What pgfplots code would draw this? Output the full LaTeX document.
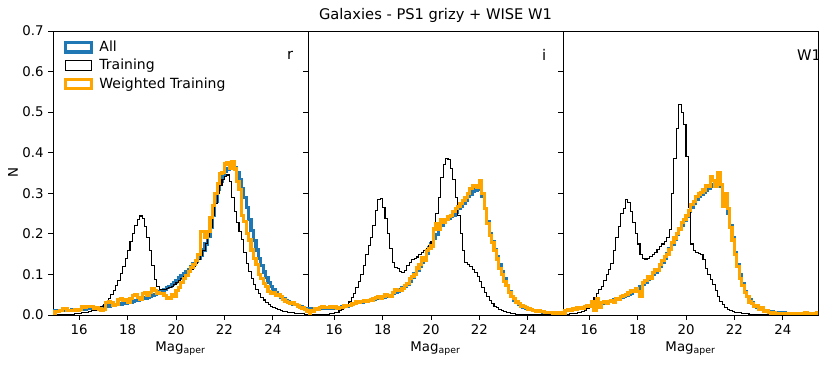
\documentclass[border=0pt]{standalone}
\usepackage{fontspec}
\setmainfont{DejaVu Sans}
\usepackage{pgfplots}
\usepackage{pgfplotstable}
\pgfplotsset{compat=1.18}
\usepgfplotslibrary{groupplots}
\usetikzlibrary{calc}
\definecolor{mplblue}{HTML}{1F77B4}
\definecolor{mplorange}{HTML}{FFA500}

% columns: bin left edge, All, Training, Weighted Training
\pgfplotstableread{
x all tr wt
15.0 0 0 0
15.0 0.010 0.000 0.008
15.1 0.010 0.000 0.008
15.2 0.011 0.001 0.012
15.3 0.011 0.001 0.016
15.4 0.012 0.001 0.016
15.5 0.012 0.001 0.011
15.6 0.012 0.002 0.012
15.7 0.013 0.002 0.011
15.8 0.013 0.003 0.013
15.9 0.014 0.003 0.012
16.0 0.014 0.004 0.014
16.1 0.015 0.005 0.020
16.2 0.015 0.006 0.019
16.3 0.016 0.007 0.021
16.4 0.016 0.008 0.020
16.5 0.017 0.010 0.020
16.6 0.017 0.012 0.016
16.7 0.018 0.015 0.017
16.8 0.018 0.018 0.015
16.9 0.019 0.022 0.012
17.0 0.020 0.027 0.013
17.1 0.021 0.033 0.030
17.2 0.022 0.040 0.033
17.3 0.023 0.050 0.031
17.4 0.024 0.060 0.024
17.5 0.025 0.072 0.026
17.6 0.026 0.086 0.038
17.7 0.027 0.102 0.040
17.8 0.028 0.120 0.035
17.9 0.029 0.140 0.038
18.0 0.031 0.160 0.030
18.1 0.032 0.180 0.041
18.2 0.034 0.200 0.048
18.3 0.035 0.220 0.050
18.4 0.037 0.236 0.044
18.5 0.038 0.244 0.038
18.6 0.040 0.238 0.052
18.7 0.042 0.218 0.054
18.8 0.044 0.192 0.048
18.9 0.046 0.160 0.055
19.0 0.048 0.122 0.066
19.1 0.051 0.088 0.060
19.2 0.054 0.070 0.054
19.3 0.057 0.063 0.053
19.4 0.060 0.062 0.052
19.5 0.063 0.063 0.048
19.6 0.067 0.065 0.041
19.7 0.071 0.068 0.042
19.8 0.076 0.071 0.050
19.9 0.081 0.075 0.046
20.0 0.086 0.079 0.060
20.1 0.091 0.084 0.068
20.2 0.096 0.089 0.080
20.3 0.101 0.094 0.090
20.4 0.107 0.100 0.098
20.5 0.113 0.106 0.108
20.6 0.119 0.113 0.118
20.7 0.126 0.120 0.124
20.8 0.133 0.128 0.135
20.9 0.140 0.137 0.150
21.0 0.148 0.147 0.206
21.1 0.160 0.160 0.205
21.2 0.175 0.176 0.192
21.3 0.193 0.194 0.205
21.4 0.215 0.215 0.240
21.5 0.245 0.245 0.270
21.6 0.280 0.275 0.300
21.7 0.310 0.300 0.325
21.8 0.330 0.320 0.348
21.9 0.345 0.333 0.352
22.0 0.355 0.342 0.372
22.1 0.360 0.345 0.376
22.2 0.364 0.330 0.362
22.3 0.366 0.290 0.378
22.4 0.364 0.255 0.360
22.5 0.352 0.228 0.330
22.6 0.334 0.205 0.310
22.7 0.312 0.185 0.245
22.8 0.290 0.155 0.230
22.9 0.264 0.128 0.200
23.0 0.235 0.108 0.185
23.1 0.208 0.090 0.160
23.2 0.183 0.076 0.140
23.3 0.160 0.063 0.125
23.4 0.140 0.053 0.100
23.5 0.122 0.044 0.090
23.6 0.106 0.037 0.078
23.7 0.092 0.031 0.070
23.8 0.080 0.026 0.058
23.9 0.070 0.022 0.052
24.0 0.062 0.018 0.055
24.1 0.055 0.015 0.048
24.2 0.049 0.013 0.050
24.3 0.044 0.011 0.045
24.4 0.040 0.009 0.038
24.5 0.036 0.008 0.034
24.6 0.033 0.007 0.030
24.7 0.030 0.006 0.028
24.8 0.027 0.005 0.030
24.9 0.025 0.004 0.025
25.0 0.022 0.004 0.022
25.1 0.020 0.003 0.019
25.2 0.018 0.003 0.017
25.3 0.016 0.002 0.014
25.4 0.014 0.002 0.010
25.5 0.014 0.002 0.010
}\tabr

\pgfplotstableread{
x all tr wt
15.0 0 0 0
15.0 0.015 0.000 0.012
15.1 0.015 0.000 0.010
15.2 0.015 0.000 0.015
15.3 0.015 0.001 0.014
15.4 0.016 0.001 0.018
15.5 0.016 0.001 0.020
15.6 0.016 0.002 0.019
15.7 0.016 0.002 0.018
15.8 0.017 0.003 0.020
15.9 0.017 0.004 0.019
16.0 0.018 0.005 0.020
16.1 0.018 0.007 0.017
16.2 0.019 0.010 0.019
16.3 0.020 0.014 0.018
16.4 0.021 0.019 0.022
16.5 0.022 0.025 0.024
16.6 0.024 0.032 0.023
16.7 0.026 0.042 0.027
16.8 0.028 0.054 0.028
16.9 0.030 0.068 0.032
17.0 0.031 0.083 0.030
17.1 0.032 0.100 0.034
17.2 0.033 0.123 0.035
17.3 0.034 0.150 0.033
17.4 0.036 0.172 0.036
17.5 0.037 0.190 0.037
17.6 0.039 0.220 0.040
17.7 0.041 0.258 0.044
17.8 0.042 0.285 0.046
17.9 0.043 0.288 0.042
18.0 0.044 0.265 0.045
18.1 0.045 0.238 0.050
18.2 0.047 0.200 0.048
18.3 0.049 0.165 0.047
18.4 0.052 0.130 0.055
18.5 0.055 0.118 0.062
18.6 0.059 0.114 0.060
18.7 0.063 0.108 0.061
18.8 0.067 0.105 0.066
18.9 0.071 0.110 0.072
19.0 0.076 0.122 0.078
19.1 0.084 0.130 0.090
19.2 0.093 0.136 0.095
19.3 0.102 0.140 0.100
19.4 0.111 0.143 0.116
19.5 0.120 0.148 0.125
19.6 0.130 0.155 0.142
19.7 0.140 0.158 0.135
19.8 0.152 0.165 0.158
19.9 0.165 0.172 0.163
20.0 0.177 0.180 0.170
20.1 0.188 0.210 0.212
20.2 0.198 0.250 0.225
20.3 0.210 0.290 0.212
20.4 0.222 0.340 0.235
20.5 0.230 0.370 0.228
20.6 0.235 0.385 0.235
20.7 0.238 0.384 0.242
20.8 0.242 0.362 0.245
20.9 0.246 0.335 0.255
21.0 0.254 0.290 0.262
21.1 0.262 0.245 0.268
21.2 0.268 0.200 0.274
21.3 0.275 0.160 0.282
21.4 0.283 0.130 0.290
21.5 0.292 0.124 0.300
21.6 0.298 0.120 0.312
21.7 0.304 0.112 0.318
21.8 0.308 0.105 0.320
21.9 0.312 0.095 0.315
22.0 0.310 0.082 0.332
22.1 0.292 0.068 0.300
22.2 0.262 0.056 0.262
22.3 0.230 0.045 0.225
22.4 0.200 0.035 0.195
22.5 0.182 0.028 0.178
22.6 0.162 0.022 0.158
22.7 0.145 0.018 0.138
22.8 0.125 0.014 0.115
22.9 0.108 0.011 0.100
23.0 0.090 0.009 0.082
23.1 0.072 0.007 0.072
23.2 0.058 0.005 0.055
23.3 0.045 0.004 0.045
23.4 0.037 0.003 0.040
23.5 0.031 0.002 0.032
23.6 0.026 0.002 0.028
23.7 0.022 0.002 0.022
23.8 0.019 0.001 0.020
23.9 0.017 0.001 0.018
24.0 0.015 0.001 0.015
24.1 0.013 0.001 0.013
24.2 0.012 0.001 0.012
24.3 0.010 0.000 0.010
24.4 0.009 0.000 0.010
24.5 0.008 0.000 0.009
24.6 0.007 0.000 0.008
24.7 0.007 0.000 0.007
24.8 0.006 0.000 0.006
24.9 0.006 0.000 0.006
25.0 0.005 0.000 0.005
25.1 0.005 0.000 0.005
25.2 0.004 0.000 0.004
25.3 0.004 0.000 0.005
25.4 0.004 0.000 0.004
25.5 0.004 0.000 0.004
}\tabi

\pgfplotstableread{
x all tr wt
15.0 0 0 0
15.0 0.012 0.002 0.012
15.1 0.012 0.002 0.013
15.2 0.013 0.003 0.012
15.3 0.014 0.003 0.015
15.4 0.015 0.004 0.014
15.5 0.016 0.005 0.017
15.6 0.017 0.006 0.018
15.7 0.018 0.008 0.016
15.8 0.019 0.012 0.020
15.9 0.020 0.017 0.024
16.0 0.021 0.024 0.022
16.1 0.023 0.032 0.032
16.2 0.025 0.042 0.012
16.3 0.027 0.053 0.040
16.4 0.028 0.062 0.018
16.5 0.029 0.070 0.030
16.6 0.030 0.085 0.032
16.7 0.032 0.100 0.028
16.8 0.033 0.112 0.034
16.9 0.035 0.127 0.036
17.0 0.037 0.160 0.032
17.1 0.039 0.190 0.040
17.2 0.041 0.218 0.038
17.3 0.043 0.250 0.045
17.4 0.045 0.262 0.048
17.5 0.048 0.285 0.050
17.6 0.050 0.278 0.055
17.7 0.054 0.255 0.060
17.8 0.058 0.228 0.057
17.9 0.062 0.200 0.065
18.0 0.066 0.175 0.058
18.1 0.070 0.150 0.045
18.2 0.075 0.140 0.080
18.3 0.081 0.138 0.085
18.4 0.087 0.140 0.095
18.5 0.093 0.145 0.090
18.6 0.099 0.150 0.105
18.7 0.105 0.155 0.112
18.8 0.112 0.162 0.110
18.9 0.120 0.168 0.125
19.0 0.130 0.175 0.135
19.1 0.140 0.180 0.145
19.2 0.152 0.192 0.150
19.3 0.163 0.210 0.162
19.4 0.175 0.300 0.178
19.5 0.187 0.385 0.190
19.6 0.198 0.460 0.200
19.7 0.210 0.518 0.212
19.8 0.222 0.500 0.228
19.9 0.233 0.470 0.236
20.0 0.244 0.390 0.245
20.1 0.255 0.265 0.258
20.2 0.266 0.175 0.272
20.3 0.276 0.160 0.280
20.4 0.285 0.155 0.292
20.5 0.292 0.152 0.298
20.6 0.298 0.148 0.302
20.7 0.303 0.136 0.308
20.8 0.308 0.115 0.320
20.9 0.313 0.100 0.318
21.0 0.318 0.088 0.340
21.1 0.322 0.075 0.332
21.2 0.326 0.060 0.318
21.3 0.324 0.045 0.352
21.4 0.316 0.034 0.322
21.5 0.300 0.026 0.268
21.6 0.277 0.019 0.300
21.7 0.250 0.014 0.262
21.8 0.220 0.011 0.215
21.9 0.190 0.009 0.185
22.0 0.155 0.007 0.150
22.1 0.125 0.006 0.120
22.2 0.100 0.005 0.090
22.3 0.078 0.004 0.072
22.4 0.058 0.003 0.055
22.5 0.046 0.003 0.045
22.6 0.037 0.002 0.032
22.7 0.030 0.002 0.028
22.8 0.024 0.001 0.020
22.9 0.019 0.001 0.022
23.0 0.016 0.001 0.015
23.1 0.013 0.001 0.018
23.2 0.011 0.001 0.010
23.3 0.010 0.000 0.012
23.4 0.009 0.000 0.006
23.5 0.008 0.000 0.005
23.6 0.007 0.000 0.006
23.7 0.006 0.000 0.004
23.8 0.006 0.000 0.004
23.9 0.005 0.000 0.004
24.0 0.005 0.000 0.004
24.1 0.004 0.000 0.004
24.2 0.004 0.000 0.004
24.3 0.004 0.000 0.003
24.4 0.004 0.000 0.004
24.5 0.004 0.000 0.004
24.6 0.004 0.000 0.003
24.7 0.004 0.000 0.004
24.8 0.004 0.000 0.004
24.9 0.004 0.000 0.005
25.0 0.004 0.000 0.004
25.1 0.004 0.000 0.004
25.2 0.004 0.000 0.003
25.3 0.004 0.000 0.004
25.4 0.004 0.000 0.005
25.5 0.004 0.000 0.005
}\tabw

\begin{document}
\begin{tikzpicture}
\begin{groupplot}[
  group style={group size=3 by 1, horizontal sep=0pt,
    yticklabels at=edge left, ylabels at=edge left},
  scale only axis, width=191.25pt, height=213pt,
  xmin=14.92, xmax=25.45, ymin=0, ymax=0.7,
  xtick={16,18,20,22,24},
  ytick={0,0.1,0.2,0.3,0.4,0.5,0.6,0.7},
  tick align=outside, xtick pos=bottom, ytick pos=left,
  major tick length=3.5pt,
  tick style={black, line width=0.6pt},
  axis line style={line width=0.6pt},
  /pgf/number format/assume math mode=true,
  ticklabel style={font=\fontsize{10}{12}\selectfont},
  yticklabel style={/pgf/number format/.cd, fixed, fixed zerofill, precision=1},
  xlabel={Mag\textsubscript{aper}},
  xlabel style={font=\fontsize{10}{12}\selectfont, yshift=1pt},
  ylabel style={font=\fontsize{10}{12}\selectfont},
  ylabel shift=-3.5pt,
  legend image code/.code={\draw[#1] (0pt,-3.6pt) rectangle (19.5pt,3.6pt);},
  legend style={at={(rel axis cs:0.03,0.985)}, anchor=north west,
    draw=none, fill=none, font=\fontsize{10.5}{12}\selectfont,
    row sep=0.3pt, inner sep=2pt,
    nodes={inner xsep=5pt}},
  legend cell align=left,
  every axis plot/.append style={const plot},
]
\nextgroupplot[ylabel={N}]
\addplot[mplblue, line width=2.4pt] table[x=x, y=all] {\tabr};
\addlegendentry{All}
\addplot[black, line width=0.8pt] table[x=x, y=tr] {\tabr};
\addlegendentry{Training}
\addplot[mplorange, line width=2.4pt] table[x=x, y=wt] {\tabr};
\addlegendentry{Weighted Training}
\node[anchor=west, font=\fontsize{11}{13}\selectfont] at (rel axis cs:0.9,0.915) {r};

\nextgroupplot
\addplot[mplblue, line width=2.4pt] table[x=x, y=all] {\tabi};
\addplot[black, line width=0.8pt] table[x=x, y=tr] {\tabi};
\addplot[mplorange, line width=2.4pt] table[x=x, y=wt] {\tabi};
\node[anchor=west, font=\fontsize{11}{13}\selectfont] at (rel axis cs:0.9,0.915) {i};

\nextgroupplot
\addplot[mplblue, line width=2.4pt] table[x=x, y=all] {\tabw};
\addplot[black, line width=0.8pt] table[x=x, y=tr] {\tabw};
\addplot[mplorange, line width=2.4pt] table[x=x, y=wt] {\tabw};
\node[anchor=west, font=\fontsize{11}{13}\selectfont] at (rel axis cs:0.9,0.915) {W1};
\end{groupplot}
\node[anchor=base, font=\fontsize{11}{13}\selectfont] at ($(group c2r1.north)+(0,8.5pt)$) {Galaxies - PS1 grizy + WISE W1};
\pgfresetboundingbox
\path ($(group c1r1.south west)+(-39.75pt,-37.5pt)$) rectangle ($(group c3r1.north east)+(9.75pt,23.25pt)$);
\end{tikzpicture}
\end{document}
